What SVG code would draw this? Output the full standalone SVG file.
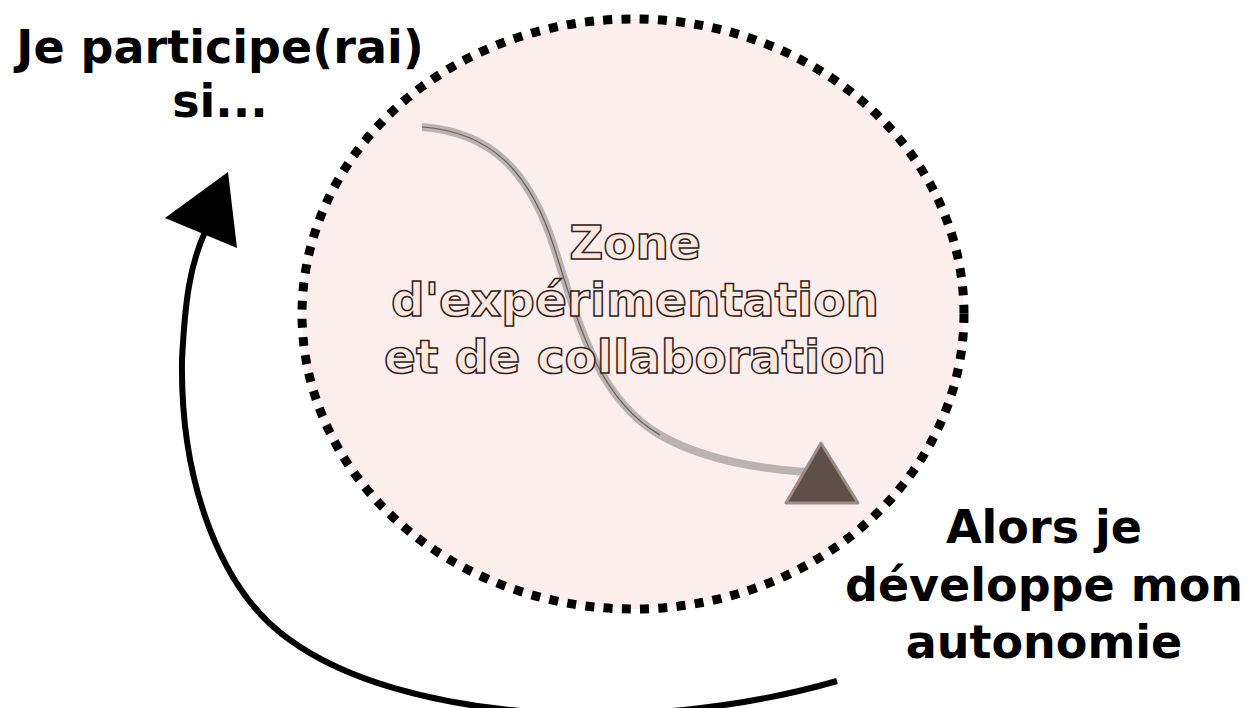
<svg xmlns="http://www.w3.org/2000/svg" width="1250" height="708" viewBox="0 0 1250 708">
<style>
.lbl{font-family:"DejaVu Sans","Liberation Sans",sans-serif;font-weight:bold;font-size:46px;fill:#000;text-anchor:middle}
.zone{font-family:"DejaVu Sans","Liberation Sans",sans-serif;font-weight:bold;font-size:47px;fill:#fce8de;stroke:#2e2020;stroke-width:1.5;text-anchor:middle}
</style>
<rect width="1250" height="708" fill="#fff"/>
<g id="zone">
<ellipse cx="633" cy="314" rx="331" ry="295" fill="#fdeeee" stroke="#000" stroke-width="9" stroke-dasharray="9 9.3"/>
</g>
<g id="connectors">
<path d="M 422 127 C 490 132 530 170 555 250 C 580 330 600 400 660 435 C 700 458 750 468 805 472" fill="none" stroke="#aaa2a2" stroke-opacity="0.8" stroke-width="8"/>
<path d="M 422 127 C 490 132 530 170 555 250 C 580 330 600 400 660 435" fill="none" stroke="#3a3030" stroke-opacity="0.65" stroke-width="1.2"/>
<polygon points="821,443 786,503 858,503" fill="#5e5049" stroke="#a08a84" stroke-width="3" stroke-linejoin="round"/>
<path d="M 837 681 C 640 738 400 720 290 640 C 225 595 180 490 182 360 C 185 300 190 265 205 232" fill="none" stroke="#000" stroke-width="6"/>
<polygon points="228,172 165,218 237,248" fill="#000"/>
</g>
<g id="zone-label">
<text class="zone" x="635" y="259">Zone</text>
<text class="zone" x="635" y="316">d'expérimentation</text>
<text class="zone" x="635" y="373">et de collaboration</text>
</g>
<g id="start">
<text class="lbl" x="220" y="63">Je participe(rai)</text>
<text class="lbl" x="220" y="117">si...</text>
</g>
<g id="result">
<text class="lbl" x="1044" y="543">Alors je</text>
<text class="lbl" x="1044" y="601">développe mon</text>
<text class="lbl" x="1044" y="658">autonomie</text>
</g>
</svg>
